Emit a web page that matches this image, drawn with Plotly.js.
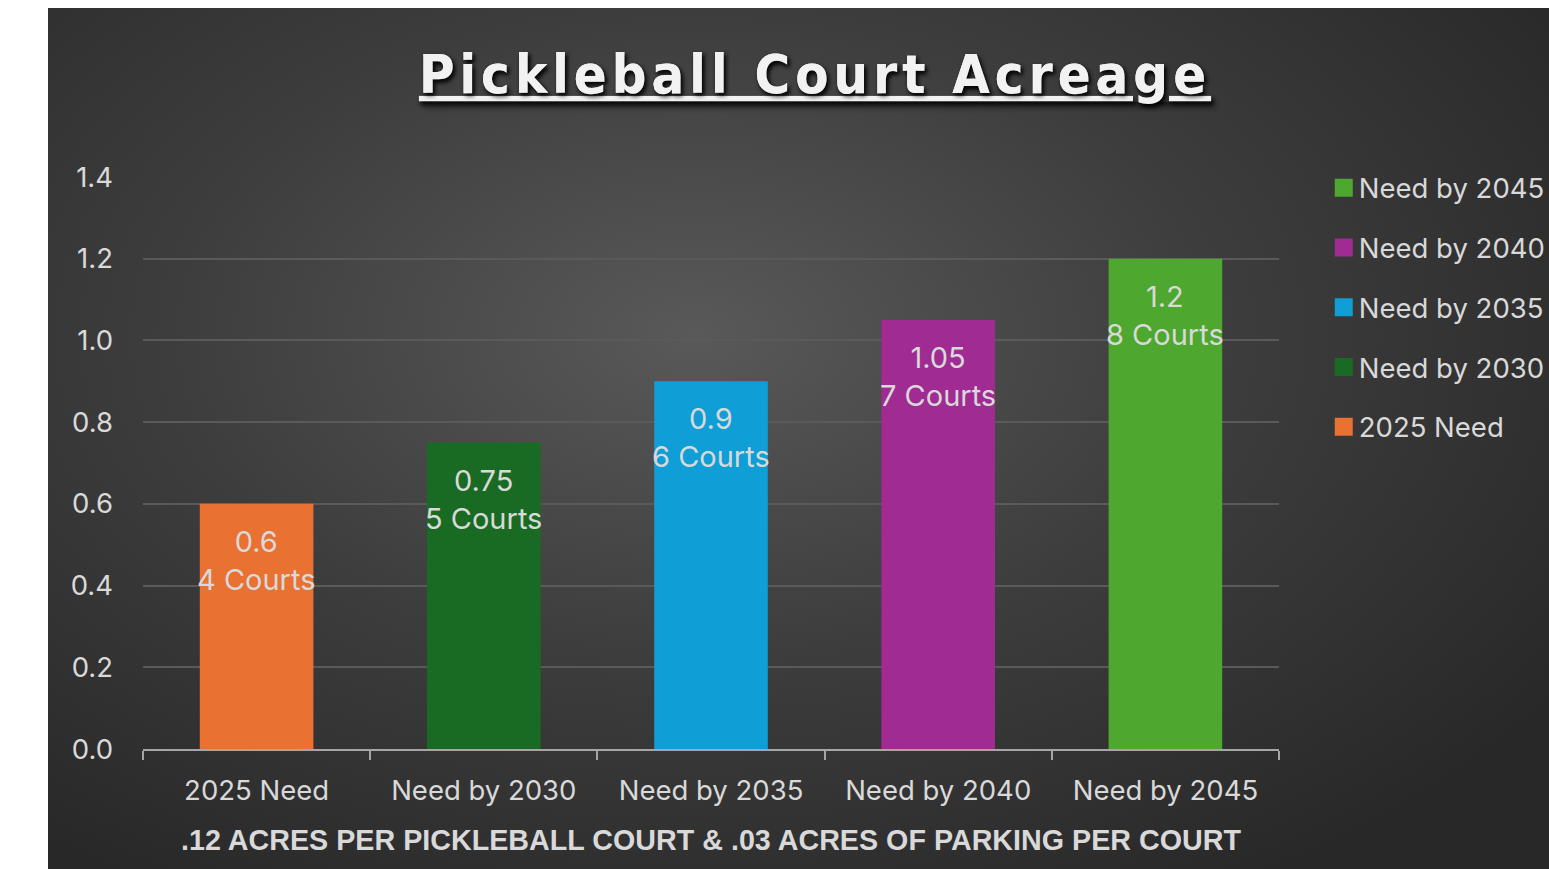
<!DOCTYPE html>
<html>
<head>
<meta charset="utf-8">
<script src="https://cdn.plot.ly/plotly-3.0.1.min.js"></script>
<style>
html,body{margin:0;padding:0;background:#ffffff;}
#bg{position:absolute;left:48px;top:8px;width:1501px;height:861px;
background:radial-gradient(ellipse 70% 75% at 43% 38%, #595959 0%, #3d3d3d 50%, #282828 100%);}
#chart{position:absolute;left:0;top:0;width:1549px;height:869px;}
#chart .gtitle{letter-spacing:5px;}
</style>
</head>
<body>
<div id="bg"></div>
<div id="chart"></div>
<script>
const categories = ["2025 Need", "Need by 2030", "Need by 2035", "Need by 2040", "Need by 2045"];
const acres = [0.6, 0.75, 0.9, 1.05, 1.2];
const courtLabels = ["4 Courts", "5 Courts", "6 Courts", "7 Courts", "8 Courts"];
const barColors = ["#E97132", "#196B24", "#0F9ED5", "#A02B93", "#4EA72E"];
const yTicks = [0, 0.2, 0.4, 0.6, 0.8, 1.0, 1.2, 1.4];

const FONT = "Inter, Liberation Sans, Arial, sans-serif";
const TXT = "#d9d9d9";

// legend lists the latest need first, so traces are added from last to first
const traces = [];
for (let i = categories.length - 1; i >= 0; i--) {
  traces.push({
    type: "bar",
    name: categories[i],
    x: [categories[i]],
    y: [acres[i]],
    width: 0.5,
    marker: {color: barColors[i]},
    legendgroup: "g" + i,
    hoverinfo: "x+y"
  });
}

const annotations = categories.map((c, i) => ({
  x: c, y: acres[i], xref: "x", yref: "y",
  text: acres[i] + "<br>" + courtLabels[i],
  showarrow: false, yanchor: "top", yshift: -18,
  font: {family: FONT, size: 29, color: TXT},
  align: "center"
}));

const layout = {
  width: 1549, height: 869,
  paper_bgcolor: "rgba(0,0,0,0)",
  plot_bgcolor: "rgba(0,0,0,0)",
  margin: {l: 143, r: 270, t: 177, b: 120, autoexpand: false},
  barmode: "overlay",
  title: {
    text: "Pickleball Court Acreage",
    xref: "container", yref: "container",
    x: 815 / 1549, y: 1 - 74 / 869, xanchor: "center", yanchor: "middle",
    font: {family: "DejaVu Sans Condensed, DejaVu Sans, sans-serif", size: 54, color: "#f2f2f2", weight: 700,
           lineposition: "under", shadow: "2px 3px 4px rgba(0,0,0,0.7)"}
  },
  xaxis: {
    categoryorder: "array", categoryarray: categories,
    showline: true, linecolor: "#a6a6a6", linewidth: 2,
    ticks: "outside", tickson: "boundaries", ticklen: 9, tickcolor: "#a6a6a6", tickwidth: 2,
    showgrid: false, zeroline: false,
    tickfont: {family: FONT, size: 27.5, color: TXT},
    ticklabelstandoff: 16,
    title: {text: ".12 ACRES PER PICKLEBALL COURT & .03 ACRES OF PARKING PER COURT",
            font: {family: "Liberation Sans, Arial, sans-serif", size: 28.7, color: TXT, weight: 700}, standoff: 24}
  },
  yaxis: {
    range: [0, 1.4], tickvals: yTicks, tickformat: ".1f",
    showgrid: true, gridcolor: "#5a5a5a", gridwidth: 2,
    zeroline: false, showline: false, ticks: "",
    tickfont: {family: FONT, size: 27.5, color: TXT},
    ticklabelstandoff: 29
  },
  legend: {
    x: 1.035, xanchor: "left", y: 1.024, yanchor: "top",
    traceorder: "grouped", tracegroupgap: 21,
    font: {family: FONT, size: 27.5, color: TXT},
    bgcolor: "rgba(0,0,0,0)"
  },
  showlegend: true,
  annotations: annotations
};

Plotly.newPlot("chart", traces, layout, {displayModeBar: false, responsive: false}).then(function () {
  // enlarge the legend squares to match the reference swatch size
  document.querySelectorAll("#chart .legendpoints path").forEach(function (p) {
    p.setAttribute("d", "M14,9H-4V-9H14Z");
  });
});
</script>
</body>
</html>
